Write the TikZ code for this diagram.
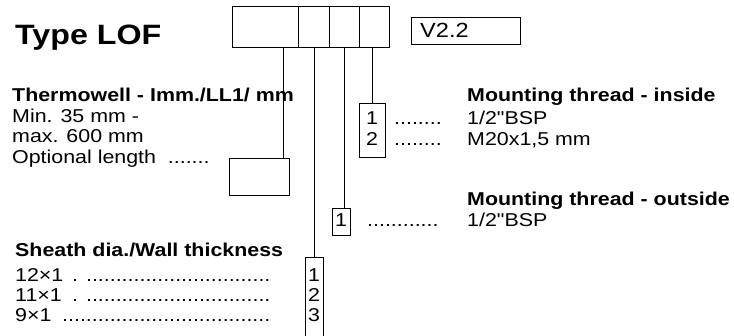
\documentclass[tikz,border=0pt]{standalone}
\usepackage{fontspec}
\setmainfont{Liberation Sans}[FakeStretch=1.15, Ligatures=TeXOff]

\tikzset{
  box/.style={draw, line width=.7pt, inner sep=0pt, anchor=north west},
  txt/.style={inner sep=0pt, anchor=base west, font=\fontsize{18.6}{20}\selectfont},
  head/.style={txt, font=\fontsize{18.6}{20}\selectfont\bfseries},
  num/.style={inner sep=0pt, anchor=base, font=\fontsize{18.6}{20}\selectfont},
  lead/.style={line width=.7pt}
}

\begin{document}
\begin{tikzpicture}[x=1pt,y=-1pt]
\useasboundingbox (0,0) rectangle (734,336);
\node[txt, font=\fontsize{28}{30}\selectfont\bfseries] (type) at (15,45) {Type LOF};
% order code
\node[box, minimum width=66pt, minimum height=41pt] (c1) at (232,6) {};
\node[box, minimum width=31pt, minimum height=41pt] (c2) at (298,6) {};
\node[box, minimum width=30pt, minimum height=41pt] (c3) at (329,6) {};
\node[box, minimum width=30pt, minimum height=41pt] (c4) at (359,6) {};
\node[box, minimum width=109pt, minimum height=27pt] (ver) at (411,17) {};
\node[txt, font=\fontsize{20.5}{22}\selectfont] (vertxt) at (420,38) {V2.2};

% thermowell
\node[head] (tw) at (12,102) {Thermowell - Imm./LL1/ mm};
\node[txt] (tw1) at (12,122.5) {Min. 35 mm -};
\node[txt] (tw2) at (12,143) {max. 600 mm};
\node[txt] (tw3) at (12,163.5) {Optional length \ .......};
\node[box, minimum width=60pt, minimum height=37pt] (len) at (229,158) {};
\coordinate (l1) at (283,158);
\draw[lead] (l1 |- c1.south) -- (l1);

% mounting thread inside
\node[head] (mi) at (467,102) {Mounting thread - inside};
\node[box, minimum width=26pt, minimum height=54pt] (in) at (359,103) {};
\node[num] (in1) at (372,125) {1}; \node[num] (in2) at (372,146) {2};
\node[txt] (ind1) at (394,125) {........}; \node[txt] (ind2) at (394,146) {........};
\node[txt] (int1) at (467,125) {1/2"BSP}; \node[txt] (int2) at (467,146) {M20x1,5 mm};
\draw[lead] (c4.south -| in.north) -- (in.north);

% mounting thread outside
\node[head] (mo) at (467,206) {Mounting thread - outside};
\node[box, minimum width=18pt, minimum height=27pt] (out) at (332,208) {};
\node[num] (out1) at (341,227) {1};
\node[txt] (outd) at (367,227) {............};
\node[txt] (outt) at (467,227) {1/2"BSP};
\draw[lead] (c3.south) -- (c3.south |- out.north);

% sheath
\node[head] (sh) at (15,257) {Sheath dia./Wall thickness};
\node[txt] (sh1) at (15,282) {12×1}; \node[txt] (shd1) at (72,282) {. ...............................};
\node[txt] (sh2) at (15,302) {11×1}; \node[txt] (shd2) at (72,302) {. ...............................};
\node[txt] (sh3) at (15,322) {9×1}; \node[txt] (shd3) at (62,322) {...................................};
\node[box, minimum width=18pt, minimum height=80pt] (sb) at (305,257) {};
\node[num] (sb1) at (314,282) {1}; \node[num] (sb2) at (314,302) {2}; \node[num] (sb3) at (314,322) {3};
\draw[lead] (c2.south -| sb.north) -- (sb.north);
\end{tikzpicture}
\end{document}
